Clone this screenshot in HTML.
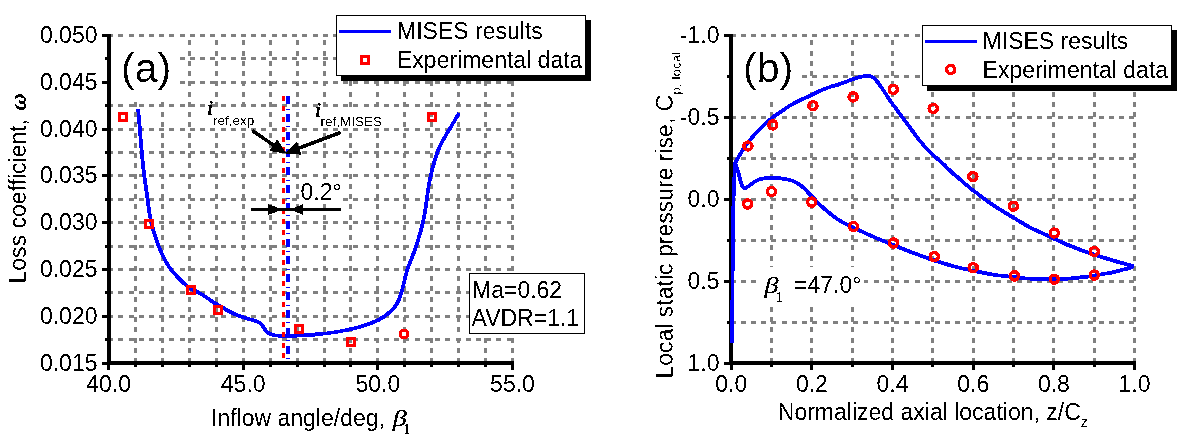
<!DOCTYPE html>
<html><head><meta charset="utf-8"><title>chart</title>
<style>
html,body{margin:0;padding:0;background:#fff;}
body{width:1187px;height:442px;overflow:hidden;}
svg{display:block;will-change:transform;}
text{font-family:"Liberation Sans", sans-serif;fill:#000;filter:url(#crisp);}
.ser{font-family:"Liberation Serif", serif;filter:url(#crisp2);}
</style></head><body>
<svg width="1187" height="442" viewBox="0 0 1187 442">
<defs><filter id="crisp" x="-10%" y="-10%" width="120%" height="120%" color-interpolation-filters="sRGB"><feComponentTransfer><feFuncA type="discrete" tableValues="0 1"/></feComponentTransfer></filter><filter id="crisp2" x="-10%" y="-10%" width="120%" height="120%" color-interpolation-filters="sRGB"><feComponentTransfer><feFuncA type="discrete" tableValues="0 1 1"/></feComponentTransfer></filter></defs>
<rect x="0" y="0" width="1187" height="442" fill="#fff"/>

<g stroke="#808080" stroke-width="3" shape-rendering="crispEdges" fill="none">
<line x1="108.1" y1="35.5" x2="514" y2="35.5" stroke-dasharray="5 5.22"/>
<line x1="108.1" y1="58.9" x2="514" y2="58.9" stroke-dasharray="5 5.22"/>
<line x1="108.1" y1="82.3" x2="514" y2="82.3" stroke-dasharray="5 5.22"/>
<line x1="108.1" y1="105.7" x2="514" y2="105.7" stroke-dasharray="5 5.22"/>
<line x1="108.1" y1="129.1" x2="514" y2="129.1" stroke-dasharray="5 5.22"/>
<line x1="108.1" y1="152.5" x2="514" y2="152.5" stroke-dasharray="5 5.22"/>
<line x1="108.1" y1="175.9" x2="514" y2="175.9" stroke-dasharray="5 5.22"/>
<line x1="108.1" y1="199.3" x2="514" y2="199.3" stroke-dasharray="5 5.22"/>
<line x1="108.1" y1="222.7" x2="514" y2="222.7" stroke-dasharray="5 5.22"/>
<line x1="108.1" y1="246.1" x2="514" y2="246.1" stroke-dasharray="5 5.22"/>
<line x1="108.1" y1="269.5" x2="514" y2="269.5" stroke-dasharray="5 5.22"/>
<line x1="108.1" y1="292.9" x2="514" y2="292.9" stroke-dasharray="5 5.22"/>
<line x1="108.1" y1="316.3" x2="514" y2="316.3" stroke-dasharray="5 5.22"/>
<line x1="108.1" y1="339.7" x2="514" y2="339.7" stroke-dasharray="5 5.22"/>
<line x1="135.5" y1="363" x2="135.5" y2="35" stroke-dasharray="5 5.25"/>
<line x1="162.4" y1="363" x2="162.4" y2="35" stroke-dasharray="5 5.25"/>
<line x1="189.4" y1="363" x2="189.4" y2="35" stroke-dasharray="5 5.25"/>
<line x1="216.3" y1="363" x2="216.3" y2="35" stroke-dasharray="5 5.25"/>
<line x1="243.2" y1="363" x2="243.2" y2="35" stroke-dasharray="5 5.25"/>
<line x1="270.1" y1="363" x2="270.1" y2="35" stroke-dasharray="5 5.25"/>
<line x1="297.1" y1="363" x2="297.1" y2="35" stroke-dasharray="5 5.25"/>
<line x1="324.0" y1="363" x2="324.0" y2="35" stroke-dasharray="5 5.25"/>
<line x1="350.9" y1="363" x2="350.9" y2="35" stroke-dasharray="5 5.25"/>
<line x1="377.9" y1="363" x2="377.9" y2="35" stroke-dasharray="5 5.25"/>
<line x1="404.8" y1="363" x2="404.8" y2="35" stroke-dasharray="5 5.25"/>
<line x1="431.7" y1="363" x2="431.7" y2="35" stroke-dasharray="5 5.25"/>
<line x1="458.7" y1="363" x2="458.7" y2="35" stroke-dasharray="5 5.25"/>
<line x1="485.6" y1="363" x2="485.6" y2="35" stroke-dasharray="5 5.25"/>
<line x1="512.5" y1="363" x2="512.5" y2="35" stroke-dasharray="5 5.25"/>
</g>
<rect x="111" y="38" width="68" height="64" fill="#fff"/>
<rect x="205" y="108" width="52" height="20" fill="#fff"/>
<rect x="313" y="108" width="72" height="20" fill="#fff"/>
<rect x="299" y="179" width="44" height="24" fill="#fff"/>
<path d="M138.10,108.60 C138.40,112.17 139.32,123.10 139.90,130.00 C140.48,136.90 140.95,143.00 141.60,150.00 C142.25,157.00 142.97,165.00 143.80,172.00 C144.63,179.00 145.68,185.33 146.60,192.00 C147.52,198.67 148.47,206.67 149.30,212.00 C150.13,217.33 150.67,220.13 151.60,224.00 C152.53,227.87 153.67,231.37 154.90,235.20 C156.13,239.03 157.50,243.22 159.00,247.00 C160.50,250.78 161.95,254.20 163.90,257.90 C165.85,261.60 167.87,265.43 170.70,269.20 C173.53,272.97 177.88,277.48 180.90,280.50 C183.92,283.52 185.18,284.90 188.80,287.30 C192.42,289.70 198.03,292.12 202.60,294.90 C207.17,297.68 210.53,300.68 216.20,304.00 C221.87,307.32 229.80,311.87 236.60,314.80 C243.40,317.73 252.77,319.90 257.00,321.60 C261.23,323.30 260.42,323.35 262.00,325.00 C263.58,326.65 264.70,329.83 266.50,331.50 C268.30,333.17 270.62,334.32 272.80,335.00 C274.98,335.68 275.57,335.50 279.60,335.60 C283.63,335.70 291.03,335.78 297.00,335.60 C302.97,335.42 308.37,335.18 315.40,334.50 C322.43,333.82 331.27,332.92 339.20,331.50 C347.13,330.08 356.40,327.95 363.00,326.00 C369.60,324.05 374.32,322.13 378.80,319.80 C383.28,317.47 386.95,314.55 389.90,312.00 C392.85,309.45 394.82,307.00 396.50,304.50 C398.18,302.00 398.92,299.97 400.00,297.00 C401.08,294.03 401.82,291.12 403.00,286.70 C404.18,282.28 405.07,276.82 407.10,270.50 C409.13,264.18 412.88,255.55 415.20,248.80 C417.52,242.05 419.50,235.47 421.00,230.00 C422.50,224.53 423.32,220.50 424.20,216.00 C425.08,211.50 425.58,207.83 426.30,203.00 C427.02,198.17 427.72,191.73 428.50,187.00 C429.28,182.27 430.17,178.33 431.00,174.60 C431.83,170.87 432.27,168.75 433.50,164.60 C434.73,160.45 436.55,154.25 438.40,149.70 C440.25,145.15 442.32,141.43 444.60,137.30 C446.88,133.17 449.68,128.97 452.10,124.90 C454.52,120.83 457.93,114.90 459.10,112.90" fill="none" stroke="#0000ff" stroke-width="3.8" stroke-linejoin="round" filter="url(#crisp)"/>
<line x1="283.5" y1="96" x2="283.5" y2="358" stroke="#ff0000" stroke-width="3" stroke-dasharray="5 5.276" shape-rendering="crispEdges"/>
<g fill="none" stroke="#ff0000" stroke-width="3" shape-rendering="crispEdges">
<rect x="119.5" y="113.5" width="7" height="7"/>
<rect x="145.5" y="220.5" width="7" height="7"/>
<rect x="187.5" y="286.5" width="7" height="7"/>
<rect x="214.5" y="306.5" width="7" height="7"/>
<rect x="295.5" y="325.5" width="7" height="7"/>
<rect x="347.5" y="338.5" width="7" height="7"/>
<rect x="428.5" y="113.5" width="7" height="7"/>
</g>
<rect x="400.5" y="330.5" width="7" height="7" rx="2.5" fill="none" stroke="#ff0000" stroke-width="3" filter="url(#crisp)"/>
<line x1="288" y1="96" x2="288" y2="360" stroke="#0000ff" stroke-width="4" stroke-dasharray="8 4.5 1 4.33" shape-rendering="crispEdges"/>
<g filter="url(#crisp)">
<line x1="252.30" y1="130.80" x2="274.93" y2="146.02" stroke="#000" stroke-width="3.6"/><polygon points="285.30,153.00 270.06,150.58 274.10,145.46 277.31,139.79" fill="#000" stroke="#000" stroke-width="1" stroke-linejoin="miter"/>
<line x1="340.50" y1="132.50" x2="297.50" y2="148.61" stroke="#000" stroke-width="3.6"/><polygon points="285.80,153.00 296.63,142.00 298.44,148.26 301.19,154.17" fill="#000" stroke="#000" stroke-width="1" stroke-linejoin="miter"/>
<rect x="250.9" y="208" width="90.1" height="3" fill="#000" shape-rendering="crispEdges"/>
<polygon points="268.1,204.1 282.3,209.5 268.1,214.9" fill="#000"/>
<polygon points="303,204.3 289.7,209.5 303,214.7" fill="#000"/>
</g>
<g fill="#000" shape-rendering="crispEdges">
<rect x="107" y="34" width="4" height="331"/>
<rect x="107" y="361" width="407" height="4"/>
<rect x="102" y="34" width="5" height="3"/>
<rect x="105" y="57" width="2" height="3"/>
<rect x="102" y="81" width="5" height="3"/>
<rect x="105" y="104" width="2" height="3"/>
<rect x="102" y="128" width="5" height="3"/>
<rect x="105" y="151" width="2" height="3"/>
<rect x="102" y="174" width="5" height="3"/>
<rect x="105" y="198" width="2" height="3"/>
<rect x="102" y="221" width="5" height="3"/>
<rect x="105" y="245" width="2" height="3"/>
<rect x="102" y="268" width="5" height="3"/>
<rect x="105" y="291" width="2" height="3"/>
<rect x="102" y="315" width="5" height="3"/>
<rect x="105" y="338" width="2" height="3"/>
<rect x="102" y="362" width="5" height="3"/>
<rect x="107" y="365" width="3" height="5"/>
<rect x="134" y="365" width="3" height="2"/>
<rect x="161" y="365" width="3" height="2"/>
<rect x="188" y="365" width="3" height="2"/>
<rect x="215" y="365" width="3" height="2"/>
<rect x="242" y="365" width="3" height="5"/>
<rect x="269" y="365" width="3" height="2"/>
<rect x="296" y="365" width="3" height="2"/>
<rect x="323" y="365" width="3" height="2"/>
<rect x="349" y="365" width="3" height="2"/>
<rect x="376" y="365" width="3" height="5"/>
<rect x="403" y="365" width="3" height="2"/>
<rect x="430" y="365" width="3" height="2"/>
<rect x="457" y="365" width="3" height="2"/>
<rect x="484" y="365" width="3" height="2"/>
<rect x="511" y="365" width="3" height="5"/>
</g>
<g font-size="23px" text-anchor="end">
<text x="97.5" y="43.0">0.050</text>
<text x="97.5" y="89.8">0.045</text>
<text x="97.5" y="136.6">0.040</text>
<text x="97.5" y="183.4">0.035</text>
<text x="97.5" y="230.2">0.030</text>
<text x="97.5" y="277.0">0.025</text>
<text x="97.5" y="323.8">0.020</text>
<text x="97.5" y="370.6">0.015</text>
</g>
<g font-size="23px" text-anchor="middle">
<text x="108.6" y="391.5">40.0</text>
<text x="243.2" y="391.5">45.0</text>
<text x="377.9" y="391.5">50.0</text>
<text x="512.5" y="391.5">55.0</text>
</g>
<text x="211" y="425.5" font-size="23px">Inflow angle/deg,</text>
<text transform="translate(392.7,425.5) scale(1.17,1)" class="ser" font-style="italic" font-size="24px">β</text>
<text x="403.6" y="433.5" class="ser" font-size="14px">1</text>
<text transform="translate(25.8,283.5) rotate(-90)" font-size="23px">Loss coefficient, <tspan class="ser" font-style="italic" font-size="24px" dx="2">ω</tspan></text>
<text x="121" y="81.5" font-size="41px">(a)</text>
<text x="207.3" y="115.4" class="ser" font-style="italic" font-size="20px" stroke="#000" stroke-width="0.5">i</text>
<text x="213" y="124.5" font-size="13.5px">ref,exp</text>
<text x="315.3" y="117.1" class="ser" font-style="italic" font-size="20px" stroke="#000" stroke-width="0.5">i</text>
<text x="320.5" y="125.5" font-size="13.5px">ref,MISES</text>
<text x="300.5" y="199.5" font-size="23px">0.2°</text>
<rect x="469.5" y="273.5" width="115" height="60" fill="#fff" stroke="#000" stroke-width="1" shape-rendering="crispEdges"/>
<text x="472" y="297.5" font-size="23px">Ma=0.62</text>
<text x="471.5" y="325.5" font-size="23px">AVDR=1.1</text>
<rect x="341" y="20" width="250" height="61" fill="#000" shape-rendering="crispEdges"/>
<rect x="336.5" y="15.5" width="249" height="60" fill="#fff" stroke="#000" stroke-width="1" shape-rendering="crispEdges"/>
<rect x="339" y="30" width="52" height="3" fill="#0000ff" shape-rendering="crispEdges"/>
<text x="397" y="38.5" font-size="23px">MISES results</text>
<rect x="361.5" y="56.5" width="7" height="7" fill="none" stroke="#ff0000" stroke-width="3" shape-rendering="crispEdges"/>
<text x="397" y="68" font-size="23px">Experimental data</text>
<g stroke="#808080" stroke-width="3" shape-rendering="crispEdges" fill="none">
<line x1="730.6" y1="35.8" x2="1136" y2="35.8" stroke-dasharray="5 5.22"/>
<line x1="730.6" y1="76.7" x2="1136" y2="76.7" stroke-dasharray="5 5.22"/>
<line x1="730.6" y1="117.6" x2="1136" y2="117.6" stroke-dasharray="5 5.22"/>
<line x1="730.6" y1="158.6" x2="1136" y2="158.6" stroke-dasharray="5 5.22"/>
<line x1="730.6" y1="199.5" x2="1136" y2="199.5" stroke-dasharray="5 5.22"/>
<line x1="730.6" y1="240.4" x2="1136" y2="240.4" stroke-dasharray="5 5.22"/>
<line x1="730.6" y1="281.4" x2="1136" y2="281.4" stroke-dasharray="5 5.22"/>
<line x1="730.6" y1="322.3" x2="1136" y2="322.3" stroke-dasharray="5 5.22"/>
<line x1="771.5" y1="363" x2="771.5" y2="35" stroke-dasharray="5 5.25"/>
<line x1="811.9" y1="363" x2="811.9" y2="35" stroke-dasharray="5 5.25"/>
<line x1="852.2" y1="363" x2="852.2" y2="35" stroke-dasharray="5 5.25"/>
<line x1="892.5" y1="363" x2="892.5" y2="35" stroke-dasharray="5 5.25"/>
<line x1="932.9" y1="363" x2="932.9" y2="35" stroke-dasharray="5 5.25"/>
<line x1="973.2" y1="363" x2="973.2" y2="35" stroke-dasharray="5 5.25"/>
<line x1="1013.5" y1="363" x2="1013.5" y2="35" stroke-dasharray="5 5.25"/>
<line x1="1053.9" y1="363" x2="1053.9" y2="35" stroke-dasharray="5 5.25"/>
<line x1="1094.2" y1="363" x2="1094.2" y2="35" stroke-dasharray="5 5.25"/>
<line x1="1134.5" y1="363" x2="1134.5" y2="35" stroke-dasharray="5 5.25"/>
</g>
<rect x="733" y="38" width="69" height="62" fill="#fff"/>
<rect x="757" y="267" width="107" height="40" fill="#fff"/>
<g fill="#000" shape-rendering="crispEdges">
<rect x="729" y="34" width="4" height="331"/>
<rect x="729" y="361" width="407" height="4"/>
<rect x="724" y="34" width="5" height="3"/>
<rect x="727" y="75" width="2" height="3"/>
<rect x="724" y="116" width="5" height="3"/>
<rect x="727" y="157" width="2" height="3"/>
<rect x="724" y="198" width="5" height="3"/>
<rect x="727" y="239" width="2" height="3"/>
<rect x="724" y="280" width="5" height="3"/>
<rect x="727" y="321" width="2" height="3"/>
<rect x="724" y="362" width="5" height="3"/>
<rect x="730" y="365" width="3" height="5"/>
<rect x="770" y="365" width="3" height="2"/>
<rect x="810" y="365" width="3" height="5"/>
<rect x="851" y="365" width="3" height="2"/>
<rect x="891" y="365" width="3" height="5"/>
<rect x="931" y="365" width="3" height="2"/>
<rect x="972" y="365" width="3" height="5"/>
<rect x="1012" y="365" width="3" height="2"/>
<rect x="1052" y="365" width="3" height="5"/>
<rect x="1093" y="365" width="3" height="2"/>
<rect x="1133" y="365" width="3" height="5"/>
</g>
<path d="M732.30,343.00 C732.32,335.83 732.32,315.50 732.40,300.00 C732.48,284.50 732.62,266.67 732.80,250.00 C732.98,233.33 733.22,212.50 733.50,200.00 C733.78,187.50 734.20,181.17 734.50,175.00 C734.80,168.83 734.62,165.98 735.30,163.00 C735.98,160.02 737.30,159.40 738.60,157.10 C739.90,154.80 741.60,151.55 743.10,149.20 C744.60,146.85 745.72,145.40 747.60,143.00 C749.48,140.60 751.90,137.55 754.40,134.80 C756.90,132.05 759.35,129.53 762.60,126.50 C765.85,123.47 770.12,119.57 773.90,116.60 C777.68,113.63 781.52,111.15 785.30,108.70 C789.08,106.25 792.83,103.88 796.60,101.90 C800.37,99.92 804.13,98.57 807.90,96.80 C811.67,95.03 815.43,92.97 819.20,91.30 C822.97,89.63 827.03,88.02 830.50,86.80 C833.97,85.58 836.53,85.17 840.00,84.00 C843.47,82.83 847.90,80.98 851.30,79.80 C854.70,78.62 857.67,77.57 860.40,76.90 C863.13,76.23 865.67,75.75 867.70,75.80 C869.73,75.85 871.00,76.22 872.60,77.20 C874.20,78.18 875.77,79.92 877.30,81.70 C878.83,83.48 880.30,85.73 881.80,87.90 C883.30,90.07 884.80,92.43 886.30,94.70 C887.80,96.97 889.30,99.33 890.80,101.50 C892.30,103.67 893.78,105.63 895.30,107.70 C896.82,109.77 898.38,111.83 899.90,113.90 C901.42,115.97 902.72,117.83 904.40,120.10 C906.08,122.37 907.28,123.87 910.00,127.50 C912.72,131.13 917.22,137.63 920.70,141.90 C924.18,146.17 927.57,149.82 930.90,153.10 C934.23,156.38 938.13,159.28 940.70,161.60 C943.27,163.92 944.42,165.17 946.30,167.00 C948.18,168.83 950.12,170.88 952.00,172.60 C953.88,174.32 955.72,175.70 957.60,177.30 C959.48,178.90 961.42,180.57 963.30,182.20 C965.18,183.83 967.02,185.53 968.90,187.10 C970.78,188.67 972.72,190.15 974.60,191.60 C976.48,193.05 977.50,193.80 980.20,195.80 C982.90,197.80 986.78,200.88 990.80,203.60 C994.82,206.32 999.78,209.32 1004.30,212.10 C1008.82,214.88 1013.62,217.73 1017.90,220.30 C1022.18,222.87 1025.35,225.08 1030.00,227.50 C1034.65,229.92 1041.85,232.97 1045.80,234.80 C1049.75,236.63 1049.73,236.70 1053.70,238.50 C1057.67,240.30 1064.32,243.38 1069.60,245.60 C1074.88,247.82 1080.13,249.92 1085.40,251.80 C1090.67,253.68 1095.93,255.25 1101.20,256.90 C1106.47,258.55 1111.58,260.15 1117.00,261.70 C1122.42,263.25 1130.92,265.45 1133.70,266.20" fill="none" stroke="#0000ff" stroke-width="3.8" stroke-linejoin="round" filter="url(#crisp)"/>
<path d="M735.50,163.50 C735.85,164.58 736.80,167.25 737.60,170.00 C738.40,172.75 739.45,177.17 740.30,180.00 C741.15,182.83 741.85,185.65 742.70,187.00 C743.55,188.35 744.03,188.52 745.40,188.10 C746.77,187.68 749.08,185.75 750.90,184.50 C752.72,183.25 754.35,181.58 756.30,180.60 C758.25,179.62 760.18,179.05 762.60,178.60 C765.02,178.15 767.78,177.95 770.80,177.90 C773.82,177.85 777.83,178.03 780.70,178.30 C783.57,178.57 785.73,178.95 788.00,179.50 C790.27,180.05 792.05,180.52 794.30,181.60 C796.55,182.68 799.22,184.18 801.50,186.00 C803.78,187.82 805.92,190.42 808.00,192.50 C810.08,194.58 811.80,196.25 814.00,198.50 C816.20,200.75 817.37,202.62 821.20,206.00 C825.03,209.38 831.62,215.20 837.00,218.80 C842.38,222.40 847.17,224.48 853.50,227.60 C859.83,230.72 867.25,234.15 875.00,237.50 C882.75,240.85 893.57,245.10 900.00,247.70 C906.43,250.30 908.40,251.15 913.60,253.10 C918.80,255.05 924.42,257.17 931.20,259.40 C937.98,261.63 947.28,264.62 954.30,266.50 C961.32,268.38 966.50,269.32 973.30,270.70 C980.10,272.08 988.30,273.75 995.10,274.80 C1001.90,275.85 1008.28,276.37 1014.10,277.00 C1019.92,277.63 1023.30,278.22 1030.00,278.60 C1036.70,278.98 1046.38,279.43 1054.30,279.30 C1062.22,279.17 1070.73,278.45 1077.50,277.80 C1084.27,277.15 1089.63,276.20 1094.90,275.40 C1100.17,274.60 1104.62,273.90 1109.10,273.00 C1113.58,272.10 1118.10,270.93 1121.80,270.00 C1125.50,269.07 1129.32,268.03 1131.30,267.40 C1133.28,266.77 1133.30,266.40 1133.70,266.20" fill="none" stroke="#0000ff" stroke-width="3.8" stroke-linejoin="round" filter="url(#crisp)"/>
<g fill="none" stroke="#ff0000" stroke-width="3.4" filter="url(#crisp)">
<circle cx="747.9" cy="146.0" r="4.1"/>
<circle cx="772.8" cy="124.9" r="4.1"/>
<circle cx="812.9" cy="105.7" r="4.1"/>
<circle cx="853.1" cy="96.9" r="4.1"/>
<circle cx="893.4" cy="89.4" r="4.1"/>
<circle cx="933.2" cy="108.5" r="4.1"/>
<circle cx="972.8" cy="176.6" r="4.1"/>
<circle cx="1013.4" cy="206.2" r="4.1"/>
<circle cx="1054.3" cy="233.0" r="4.1"/>
<circle cx="1094.3" cy="251.5" r="4.1"/>
<circle cx="747.6" cy="204.0" r="4.1"/>
<circle cx="771.5" cy="191.5" r="4.1"/>
<circle cx="811.7" cy="202.1" r="4.1"/>
<circle cx="853.5" cy="226.5" r="4.1"/>
<circle cx="893.4" cy="243.0" r="4.1"/>
<circle cx="934.3" cy="256.6" r="4.1"/>
<circle cx="973.2" cy="267.7" r="4.1"/>
<circle cx="1014.4" cy="275.9" r="4.1"/>
<circle cx="1054.3" cy="279.2" r="4.1"/>
<circle cx="1094.3" cy="275.1" r="4.1"/>
</g>
<g font-size="23px" text-anchor="end">
<text x="719.5" y="43.0">-1.0</text>
<text x="719.5" y="124.9">-0.5</text>
<text x="719.5" y="206.8">0.0</text>
<text x="719.5" y="288.7">0.5</text>
<text x="719.5" y="370.6">1.0</text>
</g>
<g font-size="23px" text-anchor="middle">
<text x="731.2" y="391.5">0.0</text>
<text x="811.9" y="391.5">0.2</text>
<text x="892.5" y="391.5">0.4</text>
<text x="973.2" y="391.5">0.6</text>
<text x="1053.9" y="391.5">0.8</text>
<text x="1134.5" y="391.5">1.0</text>
</g>
<text x="777.8" y="419.8" font-size="23px">Normalized axial location, z/C<tspan font-size="14px" dy="7.6">z</tspan></text>
<text transform="translate(672.6,378.5) rotate(-90)" font-size="23px">Local static pressure rise, C<tspan font-size="13.6px" dy="8.4">p, local</tspan></text>
<text x="743" y="82" font-size="41px">(b)</text>
<text transform="translate(764.6,293.3) scale(1.17,1)" class="ser" font-style="italic" font-size="24px">β</text>
<text x="775.8" y="301.8" class="ser" font-size="14px">1</text>
<text x="794" y="293" font-size="23px">=47.0°</text>
<rect x="926.6" y="30" width="250" height="61" fill="#000" shape-rendering="crispEdges"/>
<rect x="922.1" y="25.5" width="249" height="60" fill="#fff" stroke="#000" stroke-width="1" shape-rendering="crispEdges"/>
<rect x="924.6" y="40" width="52" height="3" fill="#0000ff" shape-rendering="crispEdges"/>
<text x="982.6" y="48.5" font-size="23px">MISES results</text>
<circle cx="950.6" cy="69.5" r="4.1" fill="none" stroke="#ff0000" stroke-width="3.4" filter="url(#crisp)"/>
<text x="982.6" y="78" font-size="23px">Experimental data</text>
</svg>
</body></html>
